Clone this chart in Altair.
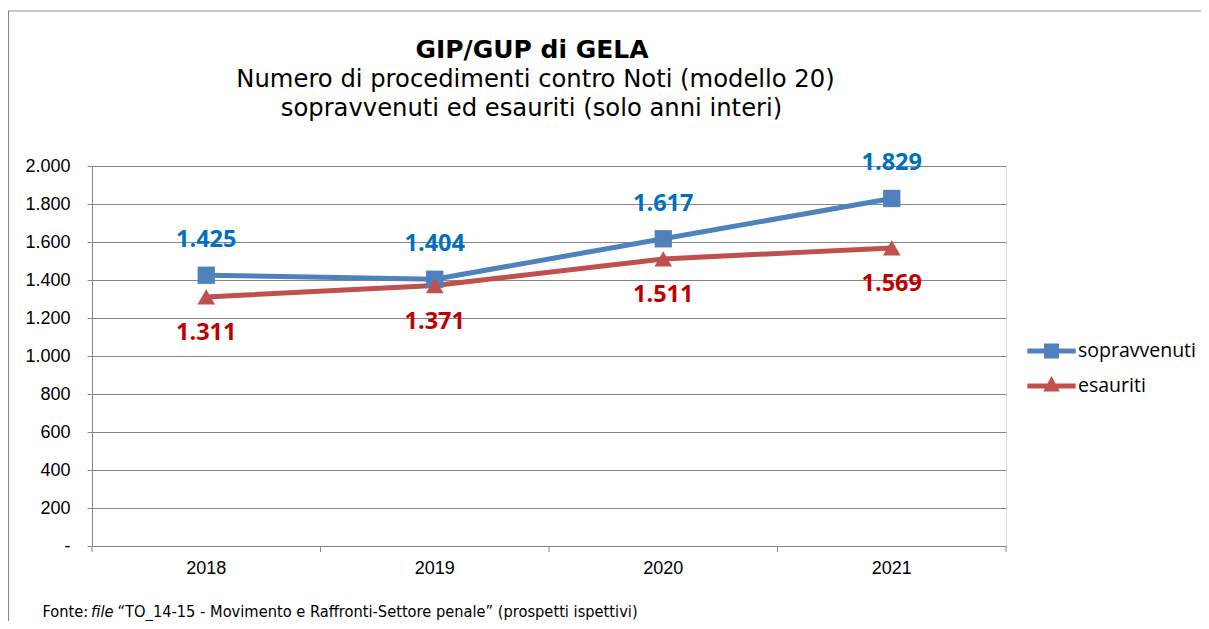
import altair as alt
import pandas as pd

years = ["2018", "2019", "2020", "2021"]
sopravvenuti = [1425, 1404, 1617, 1829]
esauriti = [1311, 1371, 1511, 1569]
series_names = ["sopravvenuti", "esauriti"]
y_ticks = [0, 200, 400, 600, 800, 1000, 1200, 1400, 1600, 1800, 2000]
title_lines = ["GIP/GUP di GELA",
               "Numero di procedimenti contro Noti (modello 20)",
               "sopravvenuti ed esauriti (solo anni interi)"]
footer_parts = ["Fonte:", "file", "\u201cTO_14-15 - Movimento e Raffronti-Settore penale\u201d (prospetti ispettivi)"]

BLUE_LINE = "#4F81BD"
RED_LINE = "#C0504D"
BLUE_LBL = "#0070C0"
RED_LBL = "#C00000"
GRID = "#868686"

W, H = 914, 380
PAD_L, PAD_T = 84, 158
TOTAL_W, TOTAL_H = 1193, 613


def it_fmt(v):
    return f"{v:,}".replace(",", ".")


rows = []
for s, vals in zip(series_names, [sopravvenuti, esauriti]):
    for yv, v in zip(years, vals):
        rows.append({"year": yv, "value": v, "series": s, "label": it_fmt(v)})
df = pd.DataFrame(rows)
df_s = df[df.series == "sopravvenuti"]
df_e = df[df.series == "esauriti"]

x_scale = alt.Scale(type="band", domain=years, paddingInner=0, paddingOuter=0)
y_scale = alt.Scale(domain=[0, 2000], nice=False)

x_axis = alt.Axis(title=None, ticks=False, tickSize=0, grid=False, domainColor=GRID,
                  labelFont="Liberation Sans", labelFontSize=18, labelColor="#000000",
                  labelPadding=13, labelAngle=0)
y_axis = alt.Axis(title=None, values=y_ticks, grid=True, gridColor=GRID, domainColor=GRID,
                  tickColor=GRID, tickSize=5, labelFont="Liberation Sans", labelFontSize=18,
                  labelColor="#000000", labelPadding=17, labelOverlap=False,
                  labelExpr="datum.value == 0 ? '-' : replace(format(datum.value, ','), ',', '.')")


def X(bp=0.5):
    return alt.X("year:O", scale=x_scale, bandPosition=bp, axis=x_axis)


def Y():
    return alt.Y("value:Q", scale=y_scale, axis=y_axis)


one = pd.DataFrame({"k": [0]})

border = alt.Chart(one).mark_rect(fill=None, stroke="#8c8c8c", strokeWidth=1.2).encode(
    x=alt.value(-PAD_L + 0.5), x2=alt.value(3000), y=alt.value(-155), y2=alt.value(3000))

line_s = alt.Chart(df_s).mark_line(strokeWidth=5, color=BLUE_LINE).encode(x=X(), y=Y())
line_e = alt.Chart(df_e).mark_line(strokeWidth=5, color=RED_LINE).encode(x=X(), y=Y())

pts_s = alt.Chart(df_s).mark_point(shape="square", filled=True, size=300, opacity=1, color=BLUE_LINE).encode(
    x=X(), y=Y())
pts_e = alt.Chart(df_e).mark_point(shape="triangle-up", filled=True, size=310, opacity=1, color=RED_LINE).encode(
    x=X(), y=Y())

lbl_s = alt.Chart(df_s).mark_text(font="Open Sans", fontWeight="bold", fontSize=23.5, color=BLUE_LBL,
                                  dy=-35, baseline="middle").encode(x=X(), y=Y(), text="label:N")
lbl_e = alt.Chart(df_e).mark_text(font="Open Sans", fontWeight="bold", fontSize=23.5, color=RED_LBL,
                                  dy=36, baseline="middle").encode(x=X(), y=Y(), text="label:N")

tick_rules = alt.Chart(pd.DataFrame({"year": years})).mark_rule(color=GRID, strokeWidth=1).encode(
    x=X(0), y=alt.value(H), y2=alt.value(H + 6))
tick_end = alt.Chart(one).mark_rule(color=GRID, strokeWidth=1).encode(
    x=alt.value(W), y=alt.value(H), y2=alt.value(H + 6))

t0 = alt.Chart(pd.DataFrame({"t": [title_lines[0]]})).mark_text(
    font="DejaVu Sans", fontWeight="bold", fontSize=25, color="#000000", align="center",
    baseline="alphabetic").encode(text="t:N", x=alt.value(440), y=alt.value(58 - 166))
t1 = alt.Chart(pd.DataFrame({"t": [title_lines[1]]})).mark_text(
    font="DejaVu Sans", fontSize=24.25, color="#000000", align="center",
    baseline="alphabetic").encode(text="t:N", x=alt.value(443.5), y=alt.value(87 - 166))
t2 = alt.Chart(pd.DataFrame({"t": [title_lines[2]]})).mark_text(
    font="DejaVu Sans", fontSize=24.25, color="#000000", align="center",
    baseline="alphabetic").encode(text="t:N", x=alt.value(439.5), y=alt.value(116 - 166))

FS = 16.3
FY = 450.5
f0 = alt.Chart(pd.DataFrame({"t": [footer_parts[0]]})).mark_text(
    font="DejaVu Sans Condensed", fontSize=FS, color="#000000", align="left",
    baseline="alphabetic").encode(text="t:N", x=alt.value(-49.5), y=alt.value(FY))
f1 = alt.Chart(pd.DataFrame({"t": [footer_parts[1]]})).mark_text(
    font="DejaVu Sans Condensed", fontSize=FS, fontStyle="italic", color="#000000", align="left",
    baseline="alphabetic").encode(text="t:N", x=alt.value(-1), y=alt.value(FY))
f2 = alt.Chart(pd.DataFrame({"t": [footer_parts[2]]})).mark_text(
    font="DejaVu Sans Condensed", fontSize=FS, color="#000000", align="left",
    baseline="alphabetic").encode(text="t:N", x=alt.value(25.5), y=alt.value(FY))

U = 11.5
sq_path = ("M-2.1,-0.22 L-0.65,-0.22 L-0.65,-0.65 L0.65,-0.65 L0.65,-0.22 L2.1,-0.22 "
           "L2.1,0.22 L0.65,0.22 L0.65,0.65 L-0.65,0.65 L-0.65,0.22 L-2.1,0.22 Z")
tri_path = ("M-2.1,-0.22 L2.1,-0.22 L2.1,0.22 L-2.1,0.22 Z "
            "M0,-0.87 L0.72,0.47 L-0.72,0.47 Z")

leg_kwargs = dict(title=None, orient="none", legendX=948, legendY=173.5, padding=0,
                  symbolSize=U * U * 4, labelOffset=15, rowPadding=14,
                  labelFont="Open Sans", labelFontSize=19.5, labelColor="#000000",
                  symbolStrokeWidth=0, labelLimit=300)

# legend-only layer: its marks sit far outside the drawn area, only the legend shows
legend_layer = alt.Chart(df).mark_point(filled=True, opacity=1).encode(
    x=X(), y=alt.value(5000),
    fill=alt.Fill("series:N", scale=alt.Scale(domain=series_names, range=[BLUE_LINE, RED_LINE]),
                  legend=alt.Legend(**leg_kwargs)),
    shape=alt.Shape("series:N", scale=alt.Scale(domain=series_names, range=[sq_path, tri_path]),
                    legend=alt.Legend(**leg_kwargs)),
)

chart = alt.layer(
    border, line_s, line_e, tick_rules, tick_end, pts_s, pts_e, lbl_s, lbl_e,
    t0, t1, t2, f0, f1, f2, legend_layer
).properties(
    width=W, height=H,
    autosize=alt.AutoSizeParams(type="none"),
    padding={"left": PAD_L, "top": PAD_T, "right": TOTAL_W - PAD_L - W, "bottom": TOTAL_H - PAD_T - H},
).configure_view(stroke=None).configure(background="#ffffff")

chart.save("out.html", embed_options={"renderer": "svg", "actions": False})
